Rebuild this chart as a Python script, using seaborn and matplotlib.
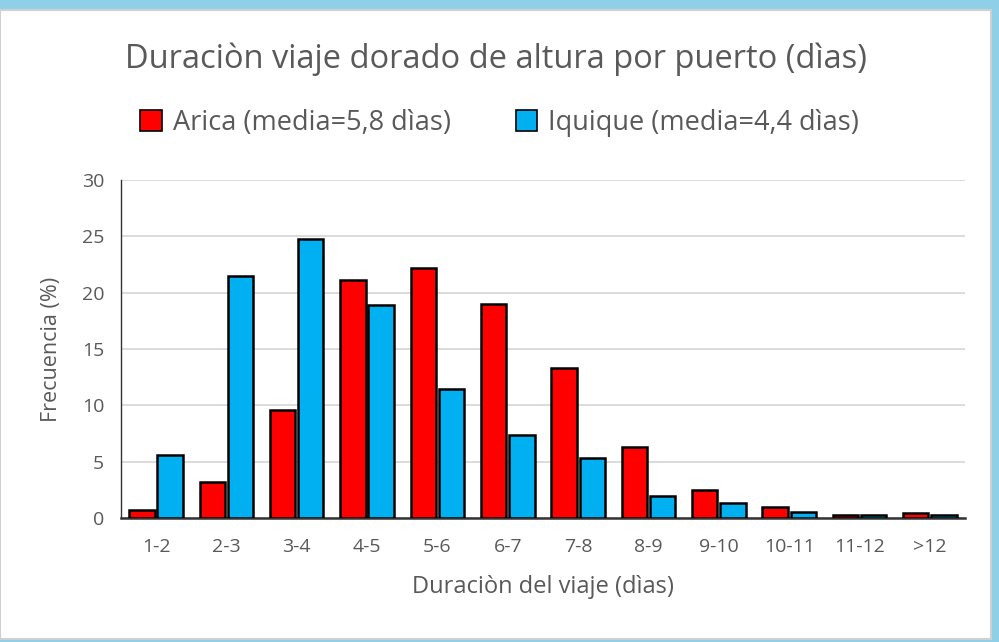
import numpy as np
import pandas as pd
import matplotlib
matplotlib.use("Agg")
import matplotlib.pyplot as plt
import seaborn as sns
from matplotlib.patches import Rectangle, Patch

# categories and values (% frequency)
CATEGORIES = ["1-2", "2-3", "3-4", "4-5", "5-6", "6-7", "7-8", "8-9",
              "9-10", "10-11", "11-12", ">12"]
ARICA = [0.7, 3.2, 9.6, 21.1, 22.2, 19.0, 13.3, 6.3, 2.5, 1.0, 0.3, 0.45]
IQUIQUE = [5.6, 21.5, 24.8, 18.9, 11.5, 7.4, 5.3, 2.0, 1.3, 0.5, 0.3, 0.3]
SERIES = ["Arica (media=5,8 dìas)", "Iquique (media=4,4 dìas)"]
COLORS = ["#ff0000", "#00b0f0"]

# long format for seaborn
df = pd.DataFrame({
    "cat": CATEGORIES * 2,
    "val": ARICA + IQUIQUE,
    "serie": [SERIES[0]] * len(CATEGORIES) + [SERIES[1]] * len(CATEGORIES),
})

sns.set_style("white")
plt.rcParams["font.family"] = ["Open Sans", "DejaVu Sans"]
TXT = "#595959"

fig = plt.figure(figsize=(9.99, 6.42), dpi=100)
fig.patch.set_facecolor("#8fd0e8")
# white chart panel with grey frame (slide look)
fig.patches.append(Rectangle((0.0, 0.005), 0.992, 0.98, transform=fig.transFigure,
                             facecolor="white", edgecolor="#d0d0d0", lw=1.5, zorder=-10))

ax = fig.add_axes([0.121, 0.193, 0.845, 0.5265])
ax.set_zorder(2)
ax.set_facecolor("white")
sns.barplot(data=df, x="cat", y="val", hue="serie", palette=COLORS, saturation=1,
            width=0.8, gap=0.1, edgecolor="black", linewidth=1.8,
            legend=False, ax=ax, zorder=3)

ax.set_ylim(0, 30)
ax.set_yticks(np.arange(0, 31, 5))
ax.set_xlim(-0.5, len(CATEGORIES) - 0.5)
ax.yaxis.grid(True, color="#d9d9d9", lw=1.3, zorder=0)
ax.set_axisbelow(True)
for s in ["top", "right"]:
    ax.spines[s].set_visible(False)
ax.spines["left"].set_color("#333333")
ax.spines["bottom"].set_color("#333333")
ax.spines["left"].set_linewidth(1.0)
ax.spines["bottom"].set_linewidth(1.8)
ax.tick_params(axis="both", length=0, labelsize=14, colors=TXT)
ax.tick_params(axis="x", pad=14)
ax.tick_params(axis="y", pad=12)
ax.set_xlabel("Duraciòn del viaje (dìas)", fontsize=17, color=TXT, labelpad=14)
ax.set_ylabel("Frecuencia (%)", fontsize=15.5, color=TXT, labelpad=14)

fig.text(0.496, 0.908, "Duraciòn viaje dorado de altura por puerto (dìas)",
         ha="center", va="center", fontsize=23.5, color=TXT)

handles = [Patch(facecolor=c, edgecolor="black", lw=1.2) for c in COLORS]
fig.legend(handles, SERIES, loc="center", bbox_to_anchor=(0.5, 0.808), ncol=2,
           frameon=False, fontsize=19.5, labelcolor=TXT, handlelength=0.8,
           handleheight=0.8, handletextpad=0.4, columnspacing=2.4)

fig.savefig("out.png", dpi=100, facecolor=fig.get_facecolor())
